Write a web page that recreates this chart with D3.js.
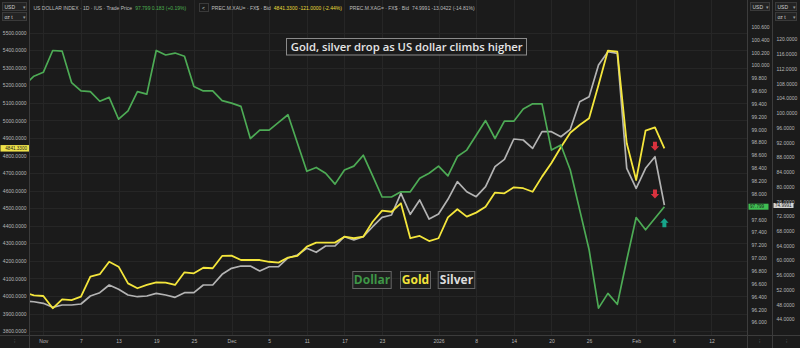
<!DOCTYPE html>
<html><head><meta charset="utf-8">
<script src="https://cdn.jsdelivr.net/npm/d3@7"></script>
<style>
html,body{margin:0;padding:0;background:#1b1b1b;}
svg{display:block;}
</style></head><body>
<svg id="c" width="800" height="348"></svg>
<script>
// ---- categories (trading days) ----
const dates = [
"2025-10-30","2025-10-31",
"2025-11-03","2025-11-04","2025-11-05","2025-11-06","2025-11-07",
"2025-11-10","2025-11-11","2025-11-12","2025-11-13","2025-11-14",
"2025-11-17","2025-11-18","2025-11-19","2025-11-20","2025-11-21",
"2025-11-24","2025-11-25","2025-11-26","2025-11-27","2025-11-28",
"2025-12-01","2025-12-02","2025-12-03","2025-12-04","2025-12-05",
"2025-12-08","2025-12-09","2025-12-10","2025-12-11","2025-12-12",
"2025-12-15","2025-12-16","2025-12-17","2025-12-18","2025-12-19",
"2025-12-22","2025-12-23","2025-12-24","2025-12-26",
"2025-12-29","2025-12-30","2025-12-31","2026-01-02",
"2026-01-05","2026-01-06","2026-01-07","2026-01-08","2026-01-09",
"2026-01-12","2026-01-13","2026-01-14","2026-01-15","2026-01-16",
"2026-01-19","2026-01-20","2026-01-21","2026-01-22","2026-01-23",
"2026-01-26","2026-01-27","2026-01-28","2026-01-29","2026-01-30",
"2026-02-02","2026-02-03","2026-02-04","2026-02-05","2026-02-06",
"2026-02-09","2026-02-10","2026-02-11","2026-02-12","2026-02-13",
"2026-02-16","2026-02-17","2026-02-18"
];

// ---- series values (Oct 30 .. Feb 5) ----
const dollar = [99.69,99.83,99.89,100.23,100.22,99.73,99.60,99.59,99.44,99.50,99.16,99.29,99.59,99.55,100.23,100.16,100.19,100.14,99.67,99.60,99.60,99.45,99.41,99.36,98.86,98.99,98.99,99.11,99.23,98.79,98.35,98.41,98.32,98.15,98.37,98.43,98.60,98.28,97.95,97.95,98.03,98.03,98.24,98.32,98.43,98.28,98.58,98.68,98.91,99.14,98.86,99.13,99.13,99.32,99.40,99.40,98.68,98.76,98.37,97.75,97.13,96.22,96.45,96.28,96.97,97.63,97.44,97.62,97.799];
const gold = [4020,4004,4000,3930,3981,3977,3996,4110,4124,4195,4167,4072,4044,4063,4078,4076,4063,4135,4129,4161,4158,4228,4230,4205,4205,4205,4195,4190,4219,4228,4281,4304,4304,4304,4338,4329,4338,4423,4486,4480,4528,4329,4342,4313,4329,4448,4494,4452,4475,4509,4589,4585,4619,4614,4594,4680,4758,4847,4930,4974,5013,5202,5398,5392,4870,4661,4942,4961,4841.33];
const silver = [48.9,48.77,48.34,47.25,47.88,47.88,48.15,50.32,51.22,53.31,52.14,50.59,50.13,50.32,51.05,50.59,49.97,51.22,51.22,53.31,53.31,56.21,57.84,58.46,58.46,57.11,58.27,58.27,60.64,61.45,63.27,62.18,63.89,63.89,66.42,65.52,66.42,69.13,71.68,72.31,78.2,72.5,76.38,71.22,72.58,76.57,81.35,78.63,77.28,79.99,85.42,87.43,92.94,92.67,90.41,94.92,94.92,93.56,95.57,103.06,104.42,113.02,116.63,116.2,84.98,79.55,84.98,88.13,74.9991];

// ---- tick labels ----
const xTicks = [["2025-11-03","Nov"],["2025-11-07","7"],["2025-11-13","13"],["2025-11-19","19"],["2025-11-25","25"],["2025-12-01","Dec"],["2025-12-05","5"],["2025-12-11","11"],["2025-12-17","17"],["2025-12-23","23"],["2026-01-02","2026"],["2026-01-08","8"],["2026-01-14","14"],["2026-01-20","20"],["2026-01-26","26"],["2026-02-02","Feb"],["2026-02-06","6"],["2026-02-12","12"]];
const goldTicks = [3800,3900,4000,4100,4200,4300,4400,4500,4600,4700,4800,4900,5000,5100,5200,5300,5400,5500];
const dollarTicks = [96.0,96.2,96.4,96.6,96.8,97.0,97.2,97.4,97.6,97.8,98.0,98.2,98.4,98.6,98.8,99.0,99.2,99.4,99.6,99.8,100.0,100.2,100.4,100.6];
const silverTicks = [44,48,52,56,60,64,68,72,76,80,84,88,92,96,100,104,108,112,116,120];

const title = "Gold, silver drop as US dollar climbs higher";
const legendNames = ["Dollar","Gold","Silver"];
const headerDollar = ["US DOLLAR INDEX · 1D · IUS · Trade Price", "97.799 0.183 (+0.19%)"];
const headerGold = ["PREC.M.XAU= · FX$ · Bid", "4841.3300 -121.0000 (-2.44%)"];
const headerSilver = ["PREC.M.XAG= · FX$ · Bid", "74.9991 -13.0422 (-14.81%)"];

// ---- styles ----
const BG = "#1b1b1b", GRID = "#262626", SEP = "#3c3c3c", AXT = "#b8b8b8";
const cGreen = "#4dab55", cYellow = "#f4e63c", cGray = "#b3b3b3";
const FONT = "'Liberation Sans', Arial, sans-serif";

const svg = d3.select("#c");
svg.append("rect").attr("width",800).attr("height",348).attr("fill",BG);

const plotL = 29.5, plotR = 747.5, plotB = 335.5;
const x = d3.scalePoint().domain(dates).range([24.5, 24.5 + (dates.length-1)*9.41]);
const yG = d3.scaleLinear().domain([3800,5500]).range([331.1,32.7]);
const yD = d3.scaleLinear().domain([96.0,100.6]).range([322.3,26.7]);
const yS = d3.scaleLinear().domain([44,120]).range([319.3,39.3]);

const lastG = gold[gold.length-1], lastD = dollar[dollar.length-1], lastS = silver[silver.length-1];

// grid
const grid = svg.append("g");
grid.selectAll("line.h").data(goldTicks).join("line")
  .attr("x1",plotL).attr("x2",plotR)
  .attr("y1",d=>Math.round(yG(d))+0.5).attr("y2",d=>Math.round(yG(d))+0.5)
  .attr("stroke",GRID).attr("stroke-width",1);
grid.selectAll("line.v").data(xTicks).join("line")
  .attr("x1",d=>Math.round(x(d[0]))+0.5).attr("x2",d=>Math.round(x(d[0]))+0.5)
  .attr("y1",0).attr("y2",plotB)
  .attr("stroke",GRID).attr("stroke-width",1);

// clip
svg.append("clipPath").attr("id","clip").append("rect")
  .attr("x",plotL).attr("y",0).attr("width",plotR-plotL).attr("height",plotB);

const lines = svg.append("g").attr("clip-path","url(#clip)");
const mk = (arr, ys) => d3.line().x((d,i)=>x(dates[i])).y(d=>ys(d))(arr);
lines.append("path").attr("d",mk(silver,yS)).attr("fill","none").attr("stroke",cGray).attr("stroke-width",1.7).attr("stroke-linejoin","round");
lines.append("path").attr("d",mk(gold,yG)).attr("fill","none").attr("stroke",cYellow).attr("stroke-width",1.8).attr("stroke-linejoin","round");
lines.append("path").attr("d",mk(dollar,yD)).attr("fill","none").attr("stroke",cGreen).attr("stroke-width",1.7).attr("stroke-linejoin","round");

// separators
const sep = svg.append("g").attr("stroke",SEP).attr("stroke-width",1);
sep.append("line").attr("x1",plotL).attr("x2",plotL).attr("y1",0).attr("y2",348);
sep.append("line").attr("x1",plotR).attr("x2",plotR).attr("y1",0).attr("y2",348);
sep.append("line").attr("x1",772.5).attr("x2",772.5).attr("y1",0).attr("y2",348);
sep.append("line").attr("x1",0).attr("x2",800).attr("y1",plotB).attr("y2",plotB);

// axes (tick labels hidden where the last-value tag covers them)
function styleAxis(g){
  g.select(".domain").remove();
  g.selectAll("line").remove();
  g.selectAll("text").attr("fill",AXT).style("font-family",FONT).style("font-size","5px");
}
const free = (ticks, sc, v, gap) => ticks.filter(t => Math.abs(sc(t) - sc(v)) > gap);
svg.append("g").attr("transform",`translate(${plotL},0)`)
  .call(d3.axisLeft(yG).tickValues(free(goldTicks,yG,lastG,5)).tickFormat(d3.format(".4f")).tickSize(0).tickPadding(3)).call(styleAxis);
svg.append("g").attr("transform",`translate(${plotR},0)`)
  .call(d3.axisRight(yD).tickValues(free(dollarTicks,yD,lastD,5)).tickFormat(d3.format(".3f")).tickSize(0).tickPadding(4)).call(styleAxis);
svg.append("g").attr("transform",`translate(772.5,0)`)
  .call(d3.axisRight(yS).tickValues(silverTicks).tickFormat(d3.format(".4f")).tickSize(0).tickPadding(4)).call(styleAxis);
const lab = new Map(xTicks);
svg.append("g").attr("transform",`translate(0,${plotB})`)
  .call(d3.axisBottom(x).tickValues(xTicks.map(d=>d[0])).tickFormat(d=>lab.get(d)).tickSize(0).tickPadding(4)).call(styleAxis);

// last-value highlights
function hl(xl, w, y, h, fill, txt, anchor){
  const g = svg.append("g");
  g.append("rect").attr("x",xl).attr("y",y-h/2).attr("width",w).attr("height",h).attr("fill",fill);
  g.append("text").attr("x", anchor==="end"? xl+w-2 : xl+1.5).attr("y",y).attr("dy","0.35em")
    .attr("text-anchor",anchor).attr("fill","#1a1a1a").style("font-family",FONT).style("font-size","4.6px").text(txt);
}
hl(0.5, 28.5, yG(lastG), 6.5, "#efe24a", d3.format(".4f")(lastG), "end");
hl(748.5, 20, yD(lastD), 6, "#3fbf52", d3.format(".3f")(lastD), "start");
hl(773.5, 20, yS(lastS)+0.4, 5, "#d4d4d4", d3.format(".4f")(lastS), "start");

// arrows
const down = "M-2,-4.5 L2,-4.5 L2,0 L4.2,0 L0,4.5 L-4.2,0 L-2,0 Z";
const up = "M-2,4.5 L2,4.5 L2,0 L4.2,0 L0,-4.5 L-4.2,0 L-2,0 Z";
const nL = dollar.length-1;
svg.append("path").attr("d",down).attr("fill","#d9323e")
  .attr("transform",`translate(${x(dates[nL-1])},${yG(lastG)-2})`);
svg.append("path").attr("d",down).attr("fill","#d9323e")
  .attr("transform",`translate(${x(dates[nL-1])},${yS(lastS)-11})`);
svg.append("path").attr("d",up).attr("fill","#17a58a")
  .attr("transform",`translate(${x(dates[nL])},${yD(lastD)+16})`);

// header
const hdr = svg.append("g").style("font-family",FONT).style("font-size","5px");
function hText(xp, y, t, col){ return hdr.append("text").attr("x",xp).attr("y",y).attr("fill",col).text(t); }
function seg(xp, pair, col2){
  const t1 = hText(xp, 10, pair[0], "#bdbdbd");
  const w = t1.node().getComputedTextLength();
  hText(xp + w + 3, 10, pair[1], col2);
}
seg(33.5, headerDollar, "#4caf50");
seg(211.5, headerGold, "#e9dc3a");
seg(349.5, headerSilver, "#bdbdbd");
hdr.append("rect").attr("x",199.5).attr("y",3.5).attr("width",9).attr("height",8).attr("fill","none").attr("stroke","#3a3a3a");
hText(202, 9.5, "<", "#cfcfcf");
function ddBox(xp, y, t, w){
  hdr.append("rect").attr("x",xp).attr("y",y-4.5).attr("width",w).attr("height",8).attr("fill","#232323").attr("stroke","#3a3a3a");
  hText(xp+2, y+1.5, t, "#cfcfcf");
  hText(xp+w-4, y+1.5, "▾", "#9a9a9a");
}
ddBox(2.5, 7, "USD", 24);
ddBox(2.5, 17, "oz t", 24);
ddBox(750.5, 7, "USD", 19);
ddBox(775.5, 7, "USD", 21);
ddBox(775.5, 17, "oz t", 21);
hText(13.5, 343, "⁝", "#777");
hText(759, 343, "⁝", "#777");
hText(786, 343, "⁝", "#777");

// title
const tg = svg.append("g");
const tt = tg.append("text").attr("x",406.7).attr("y",46.8).attr("dy","0.35em").attr("text-anchor","middle")
  .attr("fill","#e6e6e6").style("font-family","'Open Sans', sans-serif").style("font-weight",600).style("font-size","12px").text(title);
const tw = tt.node().getComputedTextLength();
tt.style("font-size", (12*232/tw).toFixed(2)+"px");
tg.insert("rect","text").attr("x",286.5).attr("y",38.5).attr("width",240).attr("height",16.5)
  .attr("fill",BG).attr("stroke","#8a8a8a").attr("stroke-width",1);

// legend
const legX = [352.3, 400, 437.7], legW = [38.4, 30, 36.6];
const legCol = ["#3f9647", "#f2e33a", "#dcdcdc"];
const lg = svg.append("g");
legendNames.forEach((n,i)=>{
  lg.append("rect").attr("x",legX[i]+0.5).attr("y",271.5).attr("width",legW[i]).attr("height",17)
    .attr("fill","#1e1e1e").attr("stroke","#666").attr("stroke-width",1);
  lg.append("text").attr("x",legX[i]+legW[i]/2+0.5).attr("y",280).attr("dy","0.35em").attr("text-anchor","middle")
    .attr("fill",legCol[i]).style("font-family","'Open Sans', sans-serif").style("font-weight",700).style("font-size","12px").text(n);
});
</script>
</body></html>
